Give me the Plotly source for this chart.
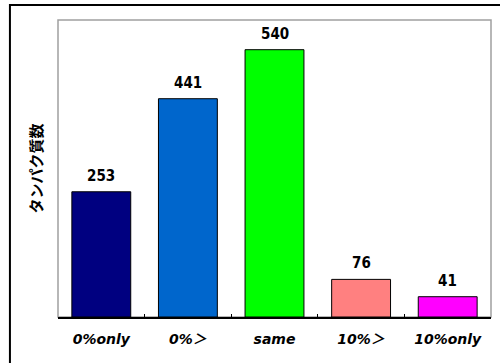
import plotly.graph_objects as go

# Protein counts per category
categories = ["0%only", "0%＞", "same", "10%＞", "10%only"]
counts = [253, 441, 540, 76, 41]
bar_colors = ["#000080", "#0066CC", "#00FF00", "#FF8080", "#FF00FF"]

fig = go.Figure()
fig.add_trace(go.Bar(
    x=categories,
    y=counts,
    marker=dict(color=bar_colors, line=dict(color="black", width=1)),
    width=0.68,
    hoverinfo="skip",
))

# Value labels above each bar
for cat, val in zip(categories, counts):
    fig.add_annotation(
        x=cat, y=val, text=str(val), showarrow=False,
        yanchor="bottom", yshift=5,
        font=dict(family="DejaVu Sans Condensed, DejaVu Sans", size=15, color="black", weight="bold"),
    )

# Gray plot frame and outer black border
fig.add_shape(type="rect", xref="paper", yref="paper", x0=0, x1=1, y0=0, y1=1,
              line=dict(color="#A0A0A0", width=1.5), layer="below")
fig.add_shape(type="rect", xref="paper", yref="paper",
              x0=-0.111, x1=1.12, y0=-0.25, y1=1.0505,
              line=dict(color="black", width=2))

fig.update_layout(
    width=500, height=363,
    margin=dict(l=58, r=9, t=20, b=46),
    paper_bgcolor="white", plot_bgcolor="white",
    showlegend=False,
    xaxis=dict(
        showline=True, linecolor="black", linewidth=1.5,
        ticks="inside", ticklen=3, tickcolor="black", tickson="boundaries",
        showgrid=False, ticklabelstandoff=8,
        tickfont=dict(family="DejaVu Sans, Noto Sans CJK JP", size=14, color="black",
                      weight="bold", style="italic"),
    ),
    yaxis=dict(
        range=[0, 600], showgrid=False, showticklabels=False, ticks="",
        zeroline=False, showline=False,
        title=dict(text="タンパク質数", standoff=10,
                   font=dict(family="Noto Sans CJK JP", size=15, color="black", weight="bold")),
    ),
)

fig.write_html("out.html")
